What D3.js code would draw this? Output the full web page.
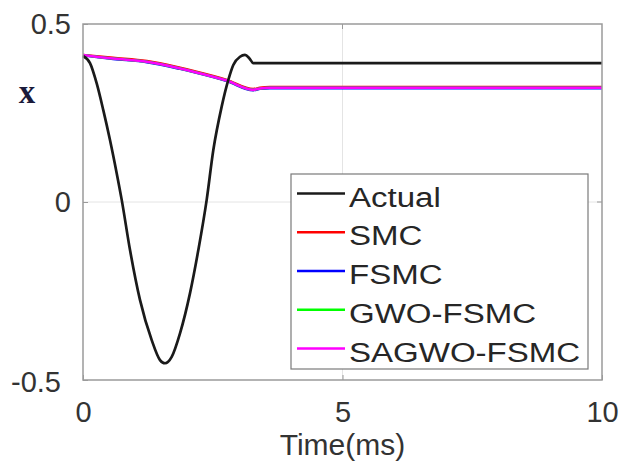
<!DOCTYPE html>
<html>
<head>
<meta charset="utf-8">
<script src="https://cdn.jsdelivr.net/npm/d3@7"></script>
<style>
  html, body { margin: 0; padding: 0; background: #fff; }
  svg { display: block; }
</style>
</head>
<body>
<svg id="chart" width="633" height="466"></svg>
<script>
// ---- data ----
const actualT = [0, 0.135, 0.264, 0.391, 0.52, 0.649, 0.746, 0.906, 1.098, 1.324, 1.484, 1.58, 1.709, 1.869, 2.062, 2.222, 2.383, 2.511, 2.672, 2.8, 2.896, 3.025, 3.121, 3.204, 3.281, 3.6, 10];
const actualX = [0.410, 0.390, 0.333, 0.258, 0.174, 0.081, 0.006, -0.135, -0.275, -0.388, -0.444, -0.453, -0.435, -0.369, -0.256, -0.135, 0.006, 0.146, 0.268, 0.343, 0.385, 0.408, 0.413, 0.404, 0.390, 0.390, 0.390];

const ctrlT    = [0, 0.58, 1.23, 1.87, 2.13, 2.77, 3.28, 3.41, 3.60, 10];
const smcX     = [0.413, 0.405, 0.396, 0.377, 0.368, 0.343, 0.317, 0.321, 0.323, 0.323];
const fsmcX    = [0.412, 0.402, 0.393, 0.374, 0.365, 0.340, 0.314, 0.318, 0.320, 0.320];
const gwoX     = [0.413, 0.403, 0.394, 0.375, 0.366, 0.341, 0.315, 0.319, 0.321, 0.321];
const sagwoX   = [0.413, 0.403, 0.394, 0.375, 0.366, 0.341, 0.315, 0.319, 0.321, 0.321];

const seriesNames = ["Actual", "SMC", "FSMC", "GWO-FSMC", "SAGWO-FSMC"];
const seriesColors = ["#1a1a1a", "#ff0000", "#0000ff", "#00ff00", "#ff00ff"];

const xTicks = [0, 5, 10];
const yTicks = [-0.5, 0, 0.5];
const yTickLabels = ["-0.5", "0", "0.5"];
const xLabel = "Time(ms)";
const yLabel = "x";

// ---- layout ----
const svg = d3.select("#chart");
const L = 83, R = 602, T = 24, B = 380;

const x = d3.scaleLinear().domain([0, 10]).range([L, R]);
const y = d3.scaleLinear().domain([-0.5, 0.5]).range([B, T]);

const textColor = "#333";
const axisColor = "#9a9a9a";
const font = "'Liberation Sans', Arial, Helvetica, sans-serif";

// grid
const grid = svg.append("g");
grid.selectAll("line.gx").data(xTicks.slice(1, -1)).join("line")
  .attr("x1", d => x(d)).attr("x2", d => x(d)).attr("y1", T).attr("y2", B)
  .attr("stroke", "#e4e4e4").attr("stroke-width", 1);
grid.selectAll("line.gy").data(yTicks.slice(1, -1)).join("line")
  .attr("x1", L).attr("x2", R).attr("y1", d => y(d)).attr("y2", d => y(d))
  .attr("stroke", "#e4e4e4").attr("stroke-width", 1);

// series
const line = d3.line().x(d => x(d[0])).y(d => y(d[1])).curve(d3.curveMonotoneX);
const zip = (ts, vs) => ts.map((t, i) => [t, vs[i]]);
const seriesData = [
  zip(actualT, actualX),
  zip(ctrlT, smcX),
  zip(ctrlT, fsmcX),
  zip(ctrlT, gwoX),
  zip(ctrlT, sagwoX)
];
const drawOrder = [1, 2, 3, 4, 0];
const plot = svg.append("g");
drawOrder.forEach(i => {
  plot.append("path")
    .datum(seriesData[i])
    .attr("fill", "none")
    .attr("stroke", seriesColors[i])
    .attr("stroke-width", i === 0 ? 2.7 : 2.6)
    .attr("stroke-linejoin", "round")
    .attr("d", line);
});

// axes (ticks inward, box on)
const fontTick = 29;
const xAxis = svg.append("g").attr("transform", `translate(0,${B})`)
  .call(d3.axisBottom(x).tickValues(xTicks).tickFormat(d3.format("d"))
    .tickSizeInner(-5).tickSizeOuter(0).tickPadding(21));
const yAxis = svg.append("g").attr("transform", `translate(${L},0)`)
  .call(d3.axisLeft(y).tickValues(yTicks).tickFormat((d, i) => yTickLabels[i])
    .tickSizeInner(-5).tickSizeOuter(0).tickPadding(12));
[xAxis, yAxis].forEach(a => {
  a.select(".domain").remove();
  a.selectAll(".tick line").attr("stroke", axisColor).attr("stroke-width", 1);
  a.selectAll(".tick text").attr("fill", textColor).style("font-family", font).style("font-size", fontTick + "px");
});
yAxis.selectAll(".tick text").filter(d => d === -0.5).attr("dx", -10).attr("dy", "0.38em");

// top / right ticks
svg.append("g").selectAll("line").data(xTicks.slice(1, -1)).join("line")
  .attr("x1", d => x(d)).attr("x2", d => x(d)).attr("y1", T).attr("y2", T + 5)
  .attr("stroke", axisColor);
svg.append("g").selectAll("line").data(yTicks.slice(1, -1)).join("line")
  .attr("x1", R).attr("x2", R - 5).attr("y1", d => y(d)).attr("y2", d => y(d))
  .attr("stroke", axisColor);

// box
svg.append("rect").attr("x", L).attr("y", T).attr("width", R - L).attr("height", B - T)
  .attr("fill", "none").attr("stroke", axisColor).attr("stroke-width", 1.5);

// axis labels
svg.append("text").attr("x", (L + R) / 2).attr("y", 455)
  .attr("text-anchor", "middle").attr("fill", textColor)
  .style("font-family", font).style("font-size", "30px").text(xLabel);
svg.append("text").attr("x", 27).attr("y", 103)
  .attr("text-anchor", "middle").attr("fill", "#1a1a3a")
  .style("font-family", "'Liberation Serif', 'DejaVu Serif', serif").style("font-weight", "bold")
  .style("font-size", "33px").text(yLabel);

// legend
const lg = svg.append("g");
lg.append("rect").attr("x", 291).attr("y", 174).attr("width", 297).attr("height", 195)
  .attr("fill", "#fff").attr("stroke", "#7a7a7a").attr("stroke-width", 1.2);
const rowY0 = 193.5, rowStep = 38.75;
seriesNames.forEach((name, i) => {
  const yy = rowY0 + i * rowStep;
  lg.append("line").attr("x1", 297).attr("x2", 345).attr("y1", yy).attr("y2", yy)
    .attr("stroke", seriesColors[i]).attr("stroke-width", 2.4);
  lg.append("text")
    .attr("transform", `translate(349,${yy + 13}) scale(1.18,1)`)
    .attr("fill", "#262626")
    .style("font-family", font).style("font-size", "28px")
    .text(name);
});
</script>
</body>
</html>
